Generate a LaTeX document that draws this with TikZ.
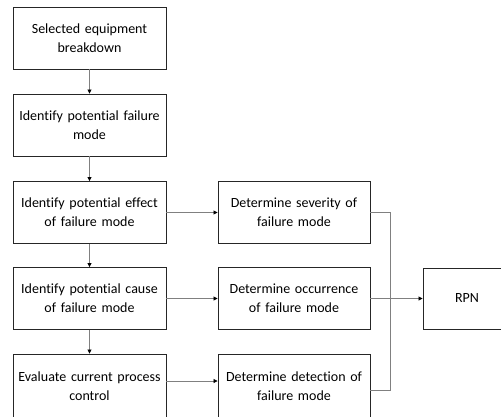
\documentclass[tikz,border=0pt]{standalone}
\usepackage{fontspec}
\setmainfont{Carlito}[Ligatures=NoCommon]
\usetikzlibrary{arrows.meta}
\begin{document}
\begin{tikzpicture}[x=1pt,y=-1pt,
  box/.style={draw=black!85, line width=0.9pt, minimum width=153pt, minimum height=62pt, align=center, inner sep=0pt, text width=150pt, font=\fontsize{14}{19}\selectfont},
  conn/.style={draw=black!50, line width=0.8pt},
  arr/.style={conn, -{Triangle[length=4pt,width=4pt,fill=black,color=black]}}]
\useasboundingbox (0,0) rectangle (501,416);
\node[box] (sel) at (89.5,38) {Selected equipment\\breakdown};
\node[box] (ipf) at (89.5,125) {Identify potential failure\\mode};
\node[box] (ipe) at (89.5,212.5) {Identify potential effect\\of failure mode};
\node[box] (ipc) at (89.5,298.5) {Identify potential cause\\of failure mode};
\node[box, minimum height=64pt] (ecp) at (89.5,386) {Evaluate current process\\control};
\node[box, minimum width=152pt] (sev) at (294,212.5) {Determine severity of\\failure mode};
\node[box, minimum width=152pt] (occ) at (294,298.5) {Determine occurrence\\of failure mode};
\node[box, minimum width=152pt, minimum height=64pt] (det) at (294,386) {Determine detection of\\failure mode};
\node[box, minimum width=100pt, text width=80pt, minimum height=61pt] (rpn) at (473,298.5) {\hspace*{-12pt}RPN};
\draw[arr] (sel) -- (ipf);
\draw[arr] (ipf) -- (ipe);
\draw[arr] (ipe) -- (ipc);
\draw[arr] (ipc) -- (ecp);
\draw[arr] (ipe) -- (sev);
\draw[arr] (ipc) -- (occ);
\draw[arr] ([yshift=5pt]ecp.east) -- ([yshift=5pt]det.west);
\coordinate (j) at (390,212.5);
\draw[conn] (sev.east) -- (j) |- ([yshift=-4pt]det.east);
\draw[arr] (occ) -- (rpn);
\end{tikzpicture}
\end{document}
